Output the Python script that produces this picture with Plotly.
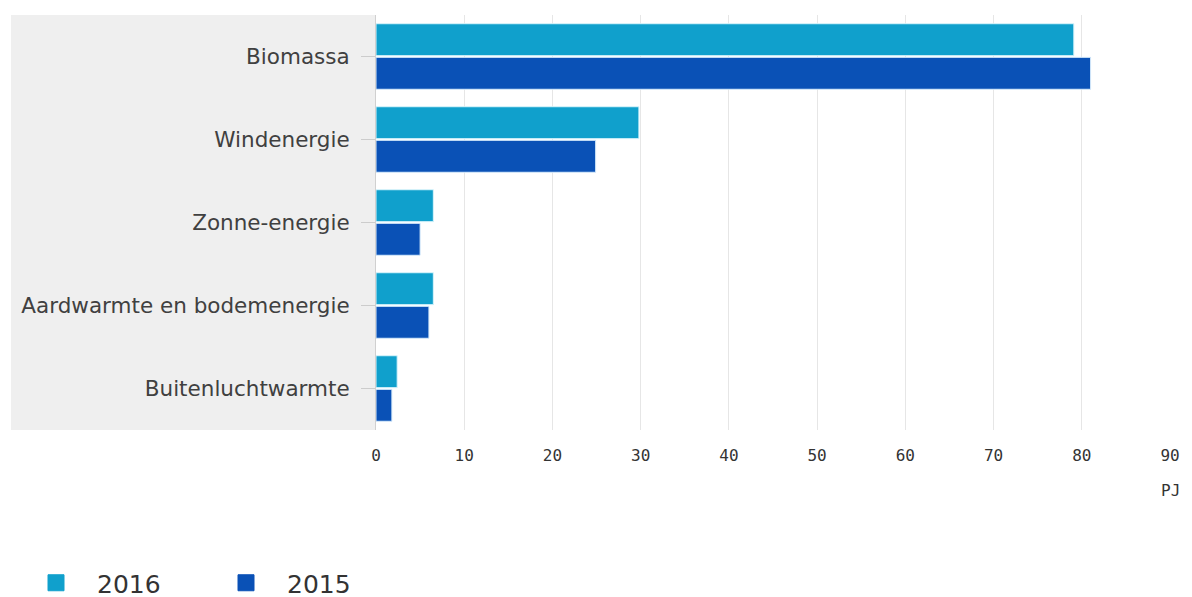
import plotly.graph_objects as go

categories = ["Biomassa", "Windenergie", "Zonne-energie", "Aardwarmte en bodemenergie", "Buitenluchtwarmte"]
values_2016 = [79.1, 29.8, 6.5, 6.5, 2.4]
values_2015 = [81.0, 24.9, 5.0, 6.0, 1.8]
series_names = ["2016", "2015"]
series_colors = ["#10a0cc", "#0a51b6"]
x_ticks = [0, 10, 20, 30, 40, 50, 60, 70, 80, 90]

fig = go.Figure()
for name, vals, col, edge in zip(series_names, [values_2016, values_2015], series_colors,
                                 ["#d8f4fc", "#d8ecfc"]):
    fig.add_trace(go.Bar(y=categories, x=vals, orientation="h", name=name, legendgroup=name,
                         showlegend=False, marker=dict(color=col, line=dict(color=edge, width=1))))
# legend entries with larger square swatches
for name, col in zip(series_names, series_colors):
    fig.add_trace(go.Scatter(x=[None], y=[None], mode="markers", name=name, legendgroup=name,
                             marker=dict(symbol="square", size=16, color=col,
                                         line=dict(color=col, width=1))))

# page has an 8px body margin; figure coordinates are page coordinates minus 8
W, H = 1184, 589
L, R, T, B = 368, 22, 7, 167
pw = W - L - R
ph = H - T - B
bottom = H - B

fig.update_layout(
    width=W, height=H,
    margin=dict(l=L, r=R, t=T, b=B, autoexpand=False),
    plot_bgcolor="white", paper_bgcolor="white",
    barmode="group", bargap=0.19, bargroupgap=0.05,
    font=dict(family="DejaVu Sans", color="#404040"),
    showlegend=True,
    legend=dict(orientation="h", x=(7 - L) / pw, y=(bottom - 575) / ph, xanchor="left", yanchor="middle",
                font=dict(size=25, color="#333333"), itemwidth=72, entrywidth=103,
                traceorder="normal"),
    shapes=[dict(type="rect", xref="paper", yref="paper", x0=(3 - L) / pw, x1=0, y0=0, y1=1,
                 fillcolor="#efefef", line=dict(width=0), layer="below")],
    annotations=[dict(text="PJ", xref="paper", yref="paper", x=1.0, y=(bottom - 482) / ph,
                      xanchor="center", yanchor="middle", showarrow=False,
                      font=dict(family="DejaVu Sans Mono", size=16, color="#333333"))],
)
fig.update_xaxes(range=[0, 90], tickvals=x_ticks, showgrid=True, gridcolor="#e6e6e6", gridwidth=1,
                 zeroline=False, showline=False, ticks="", ticklabelstandoff=14,
                 tickfont=dict(family="DejaVu Sans Mono", size=16, color="#333333"))
fig.update_yaxes(autorange="reversed", showline=True, linecolor="#d0d0d0", linewidth=1,
                 ticks="outside", ticklen=14, tickcolor="#cccccc", ticklabelstandoff=7,
                 tickfont=dict(size=21.5, color="#404040"), showgrid=False)

fig.write_html("out.html")
